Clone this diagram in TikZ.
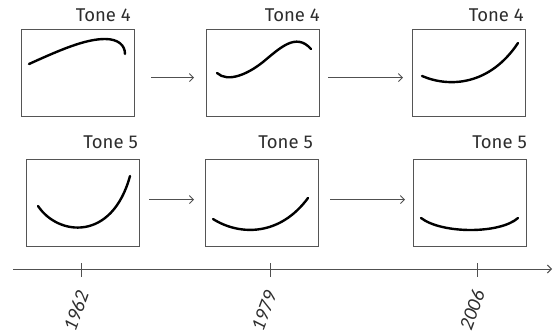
\documentclass[tikz,border=0pt]{standalone}
\usepackage{fontspec}
\setmainfont{Fira Sans}
\newfontfamily\yearfont{Carlito}
\usetikzlibrary{arrows.meta,calc}
\definecolor{boxgray}{RGB}{85,85,85}
\definecolor{txtgray}{RGB}{45,45,45}
\definecolor{arrgray}{RGB}{80,80,80}
\tikzset{
  panel/.style={draw=boxgray, line width=1.1pt, minimum width=113pt, minimum height=87pt, inner sep=0pt, anchor=north west},
  tonelbl/.style={anchor=base east, text=txtgray, font=\fontsize{18.5}{20}\selectfont, inner sep=0pt},
  yearlbl/.style={rotate=70, anchor=center, text=txtgray, font=\yearfont\itshape\fontsize{20}{20}\selectfont, inner sep=0pt},
  contour/.style={line width=2.4pt, black, line cap=round},
  flow/.style={draw=arrgray, line width=0.9pt, -{Straight Barb[length=4pt,width=8pt]}},
  axisline/.style={draw=arrgray, line width=1pt, -{Straight Barb[length=4pt,width=8pt]}},
  ticky/.style={draw=arrgray, line width=1pt}
}
\begin{document}
\begin{tikzpicture}[x=1pt,y=-1pt]
\useasboundingbox (0,0) rectangle (557,334);
% panels
\node[panel] (b1) at (21,29) {};
\node[panel] (b2) at (206,29) {};
\node[panel] (b3) at (412,29) {};
\node[panel] (b4) at (26,159) {};
\node[panel] (b5) at (205,159) {};
\node[panel] (b6) at (413,159) {};
% labels
\node[tonelbl] (t1) at (131,22) {Tone 4};
\node[tonelbl] (t2) at (320,22) {Tone 4};
\node[tonelbl] (t3) at (524,22) {Tone 4};
\node[tonelbl] (t4) at (138,149) {Tone 5};
\node[tonelbl] (t5) at (313,149) {Tone 5};
\node[tonelbl] (t6) at (527,149) {Tone 5};
% contours
\draw[contour] (29,64) .. controls (60,50) and (85,39) .. (105,39) .. controls (118,39) and (125,45) .. (125,54);
\draw[contour] (217,73) .. controls (228,83) and (248,74) .. (263,62) .. controls (280,48) and (296,32) .. (311,49);
\draw[contour] (422,76) .. controls (450,88) and (490,85) .. (518,43);
\draw[contour] (38,206) .. controls (58,236) and (112,242) .. (130,176);
\draw[contour] (213,219) .. controls (240,236) and (280,236) .. (308,198);
\draw[contour] (421,218) .. controls (442,234) and (500,234) .. (518,218);
% flow arrows
\draw[flow] ([xshift=16pt,yshift=-4.5pt]b1.east) -- ([xshift=-12pt,yshift=-4.5pt]b2.west);
\draw[flow] ([xshift=8pt,yshift=-4.5pt]b2.east) -- ([xshift=-9pt,yshift=-4.5pt]b3.west);
\draw[flow] ([xshift=9pt,yshift=3.5pt]b4.east) -- ([xshift=-11pt,yshift=3.5pt]b5.west);
\draw[flow] ([xshift=11pt,yshift=3.5pt]b5.east) -- ([xshift=-8pt,yshift=3.5pt]b6.west);
% time axis
\coordinate (ax0) at (13,269);
\coordinate (ax1) at (552,269);
\draw[axisline] (ax0) -- (ax1);
\coordinate (k1) at (81,263); \coordinate (k1b) at (81,277);
\coordinate (k2) at (270,263); \coordinate (k2b) at (270,277);
\coordinate (k3) at (477,263); \coordinate (k3b) at (477,277);
\draw[ticky] (k1) -- (k1b);
\draw[ticky] (k2) -- (k2b);
\draw[ticky] (k3) -- (k3b);
\node[yearlbl] (y1) at (76,311) {1962};
\node[yearlbl] (y2) at (264,311) {1979};
\node[yearlbl] (y3) at (472,310) {2006};
\end{tikzpicture}
\end{document}
